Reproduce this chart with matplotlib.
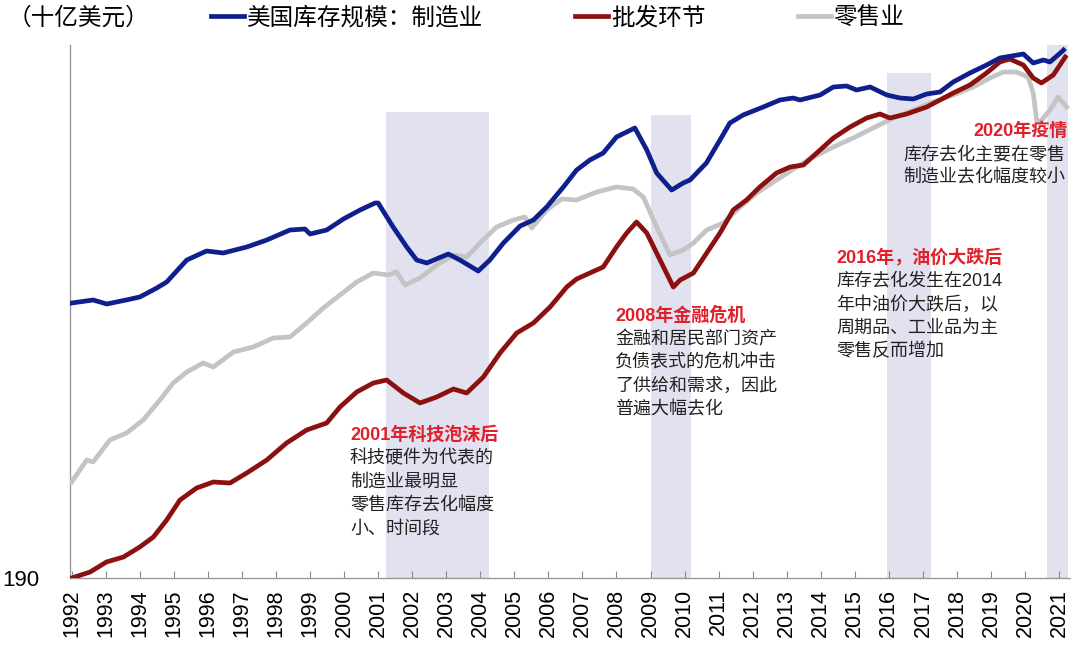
import matplotlib
matplotlib.use("Agg")
import matplotlib.pyplot as plt

plt.rcParams['font.family'] = ['Liberation Sans', 'Noto Sans CJK SC', 'DejaVu Sans']

# ── Data (billion USD) ────────────────────────────────────────────────────────
mfg_year = [1992.0, 1992.63, 1993.03, 1993.6, 1994.0, 1994.5, 1994.79, 1995.38, 1995.96,
            1996.45, 1997.14, 1997.73, 1998.41, 1998.85, 1999.0, 1999.49, 1999.98, 2000.47,
            2000.91, 2001.0, 2001.44, 2001.84, 2002.13, 2002.43, 2003.06, 2003.4, 2003.94,
            2004.28, 2004.68, 2005.17, 2005.56, 2005.95, 2006.44, 2006.83, 2007.22, 2007.61,
            2008.0, 2008.3, 2008.54, 2008.89, 2009.18, 2009.62, 2009.96, 2010.16, 2010.64,
            2011.04, 2011.33, 2011.72, 2012.31, 2012.8, 2013.19, 2013.39, 2013.98, 2014.37,
            2014.76, 2015.05, 2015.45, 2015.94, 2016.33, 2016.72, 2017.11, 2017.5, 2017.89,
            2018.38, 2018.87, 2019.26, 2019.95, 2020.24, 2020.54, 2020.73, 2021.07, 2021.13]
mfg_val = [465, 468, 464, 468, 471, 480, 486, 508, 517,
           515, 521, 528, 538, 539, 534, 538, 549, 558,
           565, 565, 541, 521, 508, 505, 514, 508, 497,
           508, 525, 542, 548, 561, 581, 598, 608, 615,
           631, 636, 640, 618, 595, 578, 585, 588, 605,
           628, 645, 653, 661, 668, 670, 668, 673, 681,
           682, 678, 681, 673, 670, 669, 674, 676, 686,
           695, 703, 710, 714, 705, 708, 706, 716, 718]

whl_year = [1992.0, 1992.54, 1993.02, 1993.52, 1994.0, 1994.4, 1994.79, 1995.18, 1995.67,
            1996.16, 1996.65, 1997.14, 1997.73, 1998.31, 1998.9, 1999.49, 1999.88, 2000.37,
            2000.86, 2001.25, 2001.74, 2002.23, 2002.72, 2003.21, 2003.6, 2004.09, 2004.58,
            2005.07, 2005.56, 2006.05, 2006.54, 2006.83, 2007.22, 2007.61, 2008.0, 2008.3,
            2008.59, 2008.89, 2009.28, 2009.67, 2009.87, 2010.26, 2010.65, 2011.04, 2011.43,
            2011.82, 2012.21, 2012.7, 2013.1, 2013.49, 2013.98, 2014.37, 2014.86, 2015.35,
            2015.74, 2016.03, 2016.52, 2017.11, 2017.5, 2017.89, 2018.38, 2018.87, 2019.26,
            2019.55, 2019.95, 2020.24, 2020.48, 2020.83, 2021.18]
whl_val = [190, 196, 206, 211, 221, 231, 248, 268, 280,
           286, 285, 295, 308, 325, 338, 345, 361, 376,
           385, 388, 375, 365, 371, 379, 375, 391, 415,
           435, 445, 461, 481, 489, 495, 501, 521, 535,
           546, 535, 508, 481, 488, 495, 515, 535, 558,
           568, 581, 595, 601, 603, 618, 630, 641, 650,
           654, 650, 654, 661, 668, 675, 683, 695, 706,
           709, 703, 690, 685, 693, 711]

rtl_year = [1992.0, 1992.44, 1992.63, 1993.12, 1993.61, 1994.1, 1994.59, 1994.98, 1995.38,
            1995.86, 1996.16, 1996.75, 1997.33, 1997.92, 1998.41, 1998.9, 1999.39, 1999.88,
            2000.37, 2000.86, 2001.3, 2001.54, 2001.79, 2002.23, 2002.72, 2003.21, 2003.6,
            2003.99, 2004.48, 2004.97, 2005.31, 2005.51, 2005.95, 2006.39, 2006.83, 2007.42,
            2008.0, 2008.49, 2008.79, 2009.18, 2009.57, 2009.96, 2010.26, 2010.65, 2011.14,
            2011.63, 2012.12, 2012.7, 2013.29, 2013.78, 2014.37, 2014.95, 2015.54, 2016.13,
            2016.72, 2017.3, 2017.89, 2018.48, 2018.97, 2019.36, 2019.75, 2020.09, 2020.24,
            2020.34, 2020.44, 2020.73, 2020.97, 2021.22]
rtl_val = [286, 308, 306, 328, 335, 348, 368, 385, 396,
           405, 401, 416, 421, 430, 431, 445, 460, 473,
           486, 495, 493, 496, 483, 490, 503, 513, 511,
           525, 541, 548, 551, 540, 558, 569, 568, 576,
           581, 579, 571, 541, 513, 518, 525, 538, 545,
           561, 575, 588, 601, 611, 621, 630, 640, 650,
           658, 666, 673, 681, 690, 696, 696, 691, 675,
           648, 646, 658, 671, 661]

# destocking episodes (shaded)
span_start = [2001.24, 2009.0, 2015.94, 2020.64]
span_end = [2004.25, 2010.2, 2017.24, 2021.26]
span_top = [656, 653, 695, 723]

years = list(range(1992, 2022))

# ── Plot ──────────────────────────────────────────────────────────────────────
W, H = 1080, 654
fig = plt.figure(figsize=(W / 100, H / 100), dpi=100)
ax = fig.add_axes([70 / W, 1 - 578 / H, 1000 / W, 533 / H])

def px(x, y):
    return x / W, 1 - y / H

for s, e, t in zip(span_start, span_end, span_top):
    ax.fill_between([s, e], 190, t, color="#e1e1f0", lw=0, zorder=1)

l_rtl, = ax.plot(rtl_year, rtl_val, color="#c4c4c4", lw=3.4, zorder=3, label="零售业")
l_whl, = ax.plot(whl_year, whl_val, color="#8b1010", lw=3.4, zorder=4, label="批发环节")
l_mfg, = ax.plot(mfg_year, mfg_val, color="#0f1f8c", lw=3.4, zorder=5, label="美国库存规模：制造业")

ax.set_xlim(1991.95, 2021.32)
ax.set_ylim(190, 723)
ax.set_xticks(years)
ax.set_xticklabels([str(y) for y in years], rotation=90, fontsize=15.5)
ax.tick_params(axis="x", direction="in", length=5, color="#888888", pad=8)
ax.set_yticks([190])
ax.set_yticklabels(["190"], fontsize=16)
ax.tick_params(axis="y", length=0, pad=22)
for side in ["top", "right"]:
    ax.spines[side].set_visible(False)
for side in ["left", "bottom"]:
    ax.spines[side].set_color("#999999")
    ax.spines[side].set_linewidth(1)

fig.text(*px(8, 18), "（十亿美元）", fontsize=17, va="center", ha="left")
fig.legend(handles=[l_mfg, l_whl, l_rtl], loc="center left", bbox_to_anchor=px(211, 18),
           ncol=3, frameon=False, fontsize=17, handlelength=1.4, handletextpad=0.12,
           columnspacing=3.9, borderaxespad=0, borderpad=0)

red = "#e0202a"
txt = "#222222"
notes = [
    (350, 435, "left", "2001年科技泡沫后",
     ["科技硬件为代表的", "制造业最明显", "零售库存去化幅度", "小、时间段"]),
    (615, 316, "left", "2008年金融危机",
     ["金融和居民部门资产", "负债表式的危机冲击", "了供给和需求，因此", "普遍大幅去化"]),
    (836, 258, "left", "2016年，油价大跌后",
     ["库存去化发生在2014", "年中油价大跌后，以", "周期品、工业品为主", "零售反而增加"]),
]
for x, y, ha, head, lines in notes:
    fig.text(*px(x, y), head, color=red, fontsize=13, fontweight="bold", va="center", ha=ha)
    for i, line in enumerate(lines):
        fig.text(*px(x, y + 23.5 * (i + 1)), line, color=txt, fontsize=13, va="center", ha=ha)

fig.text(*px(1068, 131), "2020年疫情", color=red, fontsize=13, fontweight="bold", va="center", ha="right")
fig.text(*px(903, 155), "库存去化主要在零售", color=txt, fontsize=13, va="center", ha="left")
fig.text(*px(903, 178), "制造业去化幅度较小", color=txt, fontsize=13, va="center", ha="left")

fig.savefig("out.png", dpi=100)
